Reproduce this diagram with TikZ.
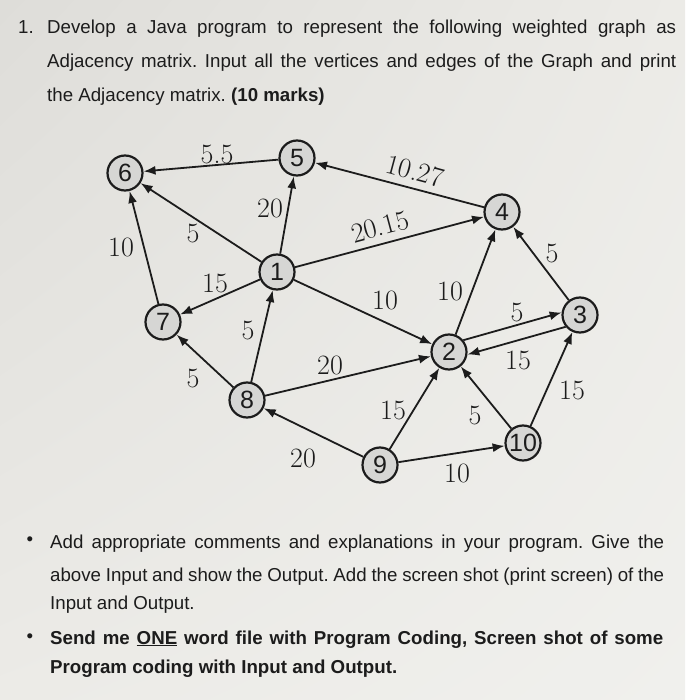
\documentclass[tikz,border=0pt]{standalone}
\usepackage{fontspec}
\newfontfamily\arialfont{Liberation Sans}
\usetikzlibrary{arrows.meta,calc,shadings}
\definecolor{ink}{RGB}{28,28,28}
\definecolor{nodefill}{RGB}{214,214,212}
\definecolor{bgA}{RGB}{222,221,217}
\definecolor{bgB}{RGB}{236,235,231}
\definecolor{bgC}{RGB}{240,240,237}
\frenchspacing
\begin{document}
\begin{tikzpicture}[x=1pt,y=-1pt,
  vert/.style={circle,draw=ink,line width=2.2pt,fill=nodefill,minimum size=35pt,inner sep=0pt,
    font=\arialfont\fontsize{25}{25}\selectfont,text=ink},
  edge/.style={draw=ink,line width=1.8pt,-{Latex[length=12pt,width=9pt]}},
  wlab/.style={font=\fontsize{28}{28}\selectfont,text=ink,inner sep=0pt},
  txt/.style={anchor=base west,inner sep=0pt,font=\arialfont\fontsize{18.7}{22}\selectfont,text=ink},
  bul/.style={inner sep=0pt,font=\arialfont\fontsize{18.7}{22}\selectfont,text=ink}]
\useasboundingbox (0,0) rectangle (685,700);
\shade[upper left=bgA,upper right=bgB,lower left=bgB,lower right=bgC] (0,0) rectangle (685,700);

% header text
\node[txt] (n1) at (18,34) {1.};
\node[txt] (t1) at (47,34) {\makebox[629pt][s]{Develop a Java program to represent the following weighted graph as}};
\node[txt] (t2) at (47,68) {\makebox[629pt][s]{Adjacency matrix. Input all the vertices and edges of the Graph and print}};
\node[txt] (t3) at (47,102) {the Adjacency matrix. \textbf{(10 marks)}};

% vertices
\node[vert] (v1) at (277,272) {1};
\node[vert] (v2) at (449,352) {2};
\node[vert] (v3) at (580,315) {3};
\node[vert] (v4) at (502,212) {4};
\node[vert] (v5) at (297,158) {5};
\node[vert] (v6) at (125,173) {6};
\node[vert] (v7) at (163,322) {7};
\node[vert] (v8) at (247,400) {8};
\node[vert] (v9) at (380,465) {9};
\node[vert] (v10) at (523,443) {10};

% edges
\draw[edge] (v5) -- (v6);
\draw[edge] (v1) -- (v6);
\draw[edge] (v7) -- (v6);
\draw[edge] (v1) -- (v5);
\draw[edge] (v4) -- (v5);
\draw[edge] (v1) -- (v4);
\draw[edge] (v1) -- (v7);
\draw[edge] (v8) -- (v1);
\draw[edge] (v8) -- (v7);
\draw[edge] (v1) -- (v2);
\draw[edge] (v2) -- (v4);
\draw[edge] (v3) -- (v4);
\draw[edge] (v8) -- (v2);
\draw[edge] (v9) -- (v8);
\draw[edge] (v9) -- (v2);
\draw[edge] (v10) -- (v2);
\draw[edge] (v9) -- (v10);
\draw[edge] (v10) -- (v3);
% double edge 2 <-> 3
\coordinate (u2) at ($(v2)+(-2pt,7.2pt)$);
\coordinate (u3) at ($(v3)+(-2pt,7.2pt)$);
\coordinate (w2) at ($(v2)+(2pt,-7.2pt)$);
\coordinate (w3) at ($(v3)+(2pt,-7.2pt)$);
\draw[edge,shorten <=17pt,shorten >=17pt] (u2) -- (u3);
\draw[edge,shorten <=17pt,shorten >=17pt] (w3) -- (w2);

% weights
\node[wlab] (l56) at (217,154) {5.5};
\node[wlab] (l15) at (270,208) {20};
\node[wlab] (l16) at (193,233) {5};
\node[wlab] (l76) at (121,247) {10};
\node[wlab] (l17) at (215,283) {15};
\node[wlab,rotate=-15] (l45) at (415,171) {10.27};
\node[wlab,rotate=15] (l14) at (380,227) {20.15};
\node[wlab] (l24) at (450,291) {10};
\node[wlab] (l34) at (552,253) {5};
\node[wlab] (l12) at (385,300) {10};
\node[wlab] (l23) at (517,312) {5};
\node[wlab] (l32) at (518,360) {15};
\node[wlab] (l81) at (248,330) {5};
\node[wlab] (l87) at (193,378) {5};
\node[wlab] (l82) at (330,365) {20};
\node[wlab] (l98) at (303,458) {20};
\node[wlab] (l92) at (393,410) {15};
\node[wlab] (l102) at (475,415) {5};
\node[wlab] (l103) at (572,390) {15};
\node[wlab] (l910) at (457,473) {10};

% bottom text
\node[bul] (b1) at (30,541) {•};
\node[txt] (t4) at (50,548) {\makebox[614pt][s]{Add appropriate comments and explanations in your program. Give the}};
\node[txt] (t5) at (50,581) {\makebox[614pt][s]{above Input and show the Output. Add the screen shot (print screen) of the}};
\node[txt] (t6) at (50,609) {Input and Output.};
\node[bul] (b2) at (30,638) {•};
\node[txt] (t7) at (50,644) {\makebox[613pt][s]{\bfseries Send me \underline{ONE} word file with Program Coding, Screen shot of some}};
\node[txt] (t8) at (50,673) {\bfseries Program coding with Input and Output.};
\end{tikzpicture}
\end{document}
